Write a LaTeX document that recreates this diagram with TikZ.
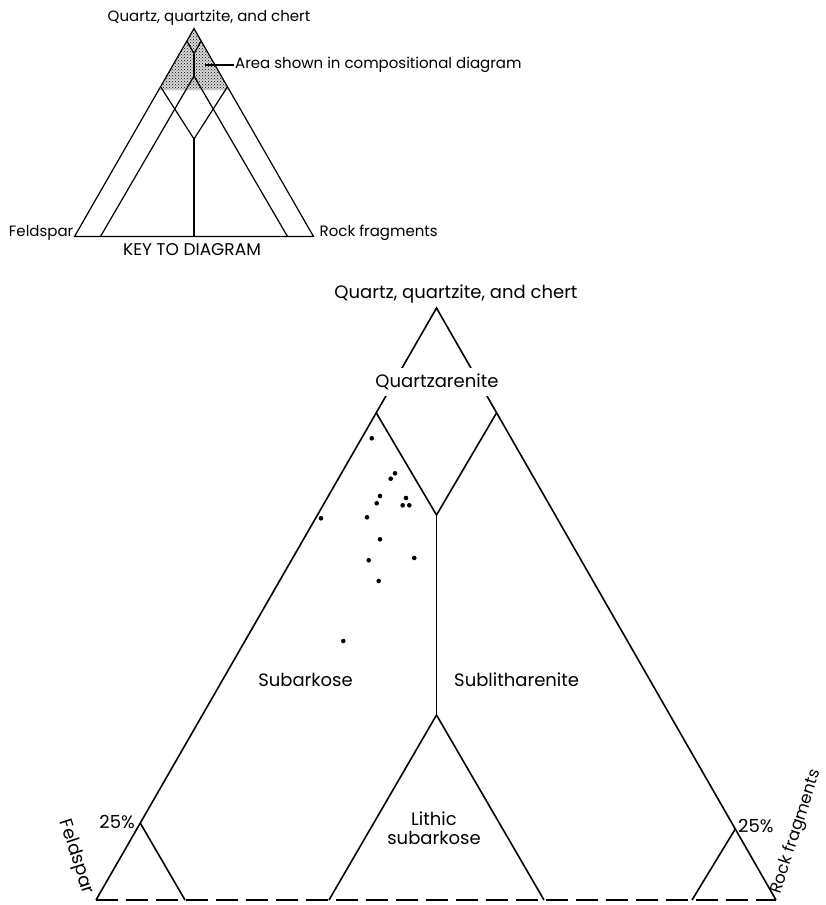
\documentclass[tikz,border=0pt]{standalone}
\usepackage{fontspec}
\setmainfont{Poppins}
\usetikzlibrary{calc,patterns}

\begin{document}
\begin{tikzpicture}[x=1pt,y=-1pt,
  side/.style={line width=1.6pt},
  keyline/.style={line width=1.2pt},
  lbl/.style={font=\fontsize{18}{19}\selectfont,inner sep=1pt},
  keylbl/.style={font=\fontsize{15}{16}\selectfont,inner sep=1pt}]
\path[use as bounding box] (0,0) rectangle (825,905);
% key to diagram
\coordinate (kq) at (194,28.5);
\coordinate (kf) at (74.5,236.5);
\coordinate (kr) at (313.5,236.5);
\coordinate (kv) at (194,53.5);
\coordinate (kl) at (194,76);
\coordinate (kw) at (194,139);
\coordinate (kb) at (194,236.5);
\fill[black!15] (kq) -- ($(kq)!0.296!(kf)$) -- ($(kq)!0.296!(kr)$) -- cycle;
\fill[pattern=crosshatch dots] (kq) -- ($(kq)!0.296!(kf)$) -- ($(kq)!0.296!(kr)$) -- cycle;
\draw[keyline] (kf) -- (kq) -- (kr) -- cycle;
\draw[keyline] ($(kq)!0.06!(kf)$) -- (kv) -- ($(kq)!0.06!(kr)$);
\draw[line width=2pt] (kv) -- (kl);
\draw[keyline] (100.5,236.5) -- (kl) -- (287.5,236.5);
\draw[keyline] ($(kq)!0.28!(kf)$) -- (kw) -- ($(kq)!0.28!(kr)$);
\draw[keyline] (kw) -- (kb);
\node (kqtz) [keylbl,anchor=base] at (209,21) {Quartz, quartzite, and chert};
\node (kfld) [keylbl,anchor=base east] at (kf) {Feldspar};
\node (krck) [keylbl,anchor=base west] at ($(kr)+(5,0)$) {Rock fragments};
\node (kttl) [keylbl,font=\fontsize{17}{18}\selectfont,anchor=base] at (192,255) {KEY TO DIAGRAM};
\node (karea) [keylbl,anchor=west] at (234,65) {Area shown in compositional diagram};
\coordinate (kpt) at (205,65);
\draw[keyline] (kpt) -- (karea.west);
% compositional diagram
\coordinate (q) at (436.5,308);
\coordinate (f) at (96,900);
\coordinate (r) at (776,900);
\coordinate (v) at (436.5,515);
\coordinate (l) at (436.5,715);
\draw[side] (f) -- (q) -- (r);
\draw[side,dash pattern=on 22pt off 8pt] (f) -- (r);
\draw[side] ($(q)!0.177!(f)$) -- (v) -- ($(q)!0.177!(r)$);
\draw[side] (v) -- (l);
\draw[side] (329,900) -- (l) -- (544,900);
\coordinate (fa) at ($(q)!0.87!(f)$);
\coordinate (ra) at ($(q)!0.88!(r)$);
\draw[side] (185,900) -- (fa);
\draw[side] (692,900) -- (ra);
\foreach \x/\y in {371.7/438.3,395/473.3,390.7/478.7,380/496,406/498,376.7/503.3,
  402.7/505.3,409.3/505.3,321/518.3,367/517.3,380/539.3,368.7/560.3,414.3/558,
  378.7/581,343.3/641}
  \fill (\x,\y) circle (2.3);
\node (qtz) [lbl,anchor=base] at (456,298) {Quartz, quartzite, and chert};
\node (qa) [lbl,fill=white,inner ysep=6pt] at (437,382) {Quartzarenite};
\node (sa) [lbl,anchor=base east] at (354,686) {Subarkose};
\node (sl) [lbl,anchor=base west] at (453,686) {Sublitharenite};
\node (ls) [lbl,align=center] at (434,828) {Lithic\\subarkose};
\node (fp) [lbl,anchor=base east] at (136,828) {25\%};
\node (rp) [lbl,anchor=base west] at (737,832) {25\%};
\node (fld) [lbl,rotate=-72] at (76,857) {Feldspar};
\node (rck) [lbl,font=\fontsize{16.5}{17}\selectfont,rotate=72] at (796.5,832) {Rock fragments};
\end{tikzpicture}
\end{document}
